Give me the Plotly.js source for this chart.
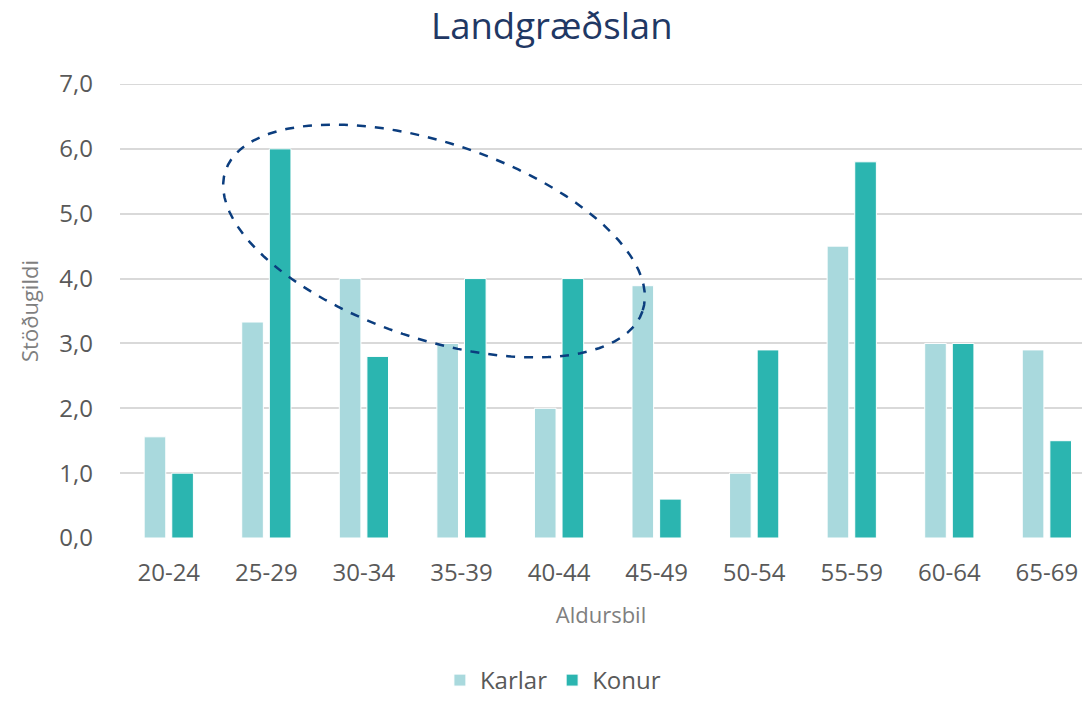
<!DOCTYPE html>
<html>
<head>
<meta charset="utf-8">
<script src="https://cdn.plot.ly/plotly-3.0.1.min.js"></script>
<style>html,body{margin:0;padding:0;background:#fff;}#chart{width:1082px;height:703px;}</style>
</head>
<body>
<div id="chart"></div>
<script>
var categories = ["20-24","25-29","30-34","35-39","40-44","45-49","50-54","55-59","60-64","65-69"];
var karlar = [1.56, 3.33, 4.0, 3.0, 2.0, 3.89, 1.0, 4.5, 3.0, 2.9];
var konur  = [1.0, 6.0, 2.8, 4.0, 4.0, 0.6, 2.9, 5.8, 3.0, 1.5];
var yTicks = [0, 1, 2, 3, 4, 5, 6, 7];

var W = 1082, H = 703;
var mL = 120, mR = 0, mT = 84, mB = 165;
var plotW = W - mL - mR, plotH = H - mT - mB;

// dashed highlight ellipse (pixel geometry -> paper coords)
var ell = {cx: 434, cy: 241, a: 220, b: 98, rot: 18.6};
function ellipsePath() {
  var th = ell.rot * Math.PI / 180, pts = [];
  for (var i = 0; i <= 96; i++) {
    var t = 2 * Math.PI * i / 96;
    var px = ell.cx + ell.a * Math.cos(t) * Math.cos(th) - ell.b * Math.sin(t) * Math.sin(th);
    var py = ell.cy + ell.a * Math.cos(t) * Math.sin(th) + ell.b * Math.sin(t) * Math.cos(th);
    var xp = (px - mL) / plotW, yp = (H - mB - py) / plotH;
    pts.push((i === 0 ? 'M' : 'L') + xp.toFixed(5) + ',' + yp.toFixed(5));
  }
  return pts.join(' ') + ' Z';
}

var font = '"Open Sans", "Noto Sans", sans-serif';

var traces = [
  {type: 'bar', name: 'Karlar', x: categories, y: karlar,
   marker: {color: '#A9D9DD', line: {color: '#ffffff', width: 1}}, hoverinfo: 'x+y'},
  {type: 'bar', name: 'Konur', x: categories, y: konur,
   marker: {color: '#2BB5B0', line: {color: '#ffffff', width: 1}}, hoverinfo: 'x+y'}
];

var layout = {
  width: W, height: H,
  margin: {l: mL, r: mR, t: mT, b: mB, pad: 0, autoexpand: false},
  paper_bgcolor: '#ffffff', plot_bgcolor: '#ffffff',
  separators: ',.',
  font: {family: font, color: '#595959'},
  title: {text: 'Landgræðslan', x: 0.51, xanchor: 'center', y: 0.962, yanchor: 'middle',
          font: {family: font, size: 36.5, color: '#1F3864'}},
  barmode: 'group', bargap: 0.434, bargroupgap: 0.217,
  xaxis: {
    type: 'category', range: [-0.5, 9.36], showgrid: false, zeroline: false, showline: false,
    ticks: '', ticklabelstandoff: 18, tickfont: {size: 24, color: '#595959'},
    title: {text: 'Aldursbil', standoff: 20, font: {size: 22, color: '#7F7F7F'}}
  },
  yaxis: {
    range: [0, 7], tickvals: yTicks, tickformat: '.1f', showgrid: true,
    gridcolor: '#D9D9D9', gridwidth: 2, zeroline: false, showline: false, ticks: '',
    ticklabelstandoff: 26, tickfont: {size: 24, color: '#595959'},
    title: {text: 'Stöðugildi', standoff: 14, font: {size: 22, color: '#7F7F7F'}}
  },
  legend: {orientation: 'h', x: 0.45, xanchor: 'center', yref: 'container', y: -0.008, yanchor: 'bottom',
           font: {size: 24, color: '#595959'}, itemwidth: 30, traceorder: 'normal', borderwidth: 0},
  shapes: [
    {type: 'line', xref: 'paper', yref: 'y', x0: 0, x1: 1, y0: yTicks[yTicks.length - 1], y1: yTicks[yTicks.length - 1],
     layer: 'below', line: {color: '#D9D9D9', width: 2}},
    {type: 'path', xref: 'paper', yref: 'paper', path: ellipsePath(),
     line: {color: '#0B3D7E', width: 2.5, dash: 'dash'}, fillcolor: 'rgba(0,0,0,0)'}
  ]
};

Plotly.newPlot('chart', traces, layout, {displayModeBar: false, staticPlot: true});
</script>
</body>
</html>
